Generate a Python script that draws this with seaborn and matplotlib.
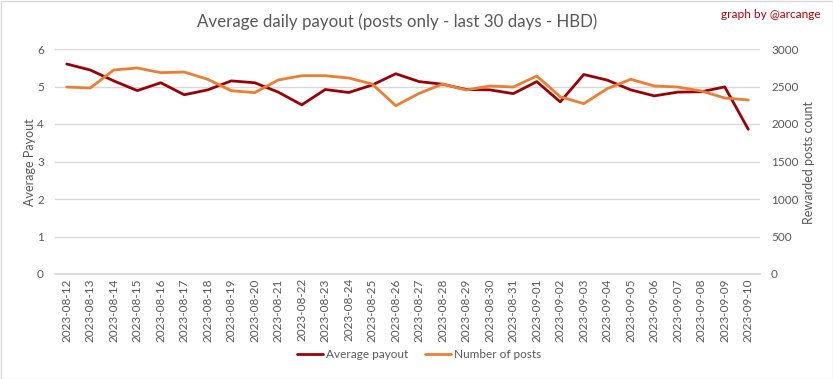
import matplotlib
matplotlib.use("Agg")
import matplotlib.pyplot as plt
import seaborn as sns
import pandas as pd
from matplotlib.patches import Rectangle

dates = ["2023-08-12", "2023-08-13", "2023-08-14", "2023-08-15", "2023-08-16", "2023-08-17",
         "2023-08-18", "2023-08-19", "2023-08-20", "2023-08-21", "2023-08-22", "2023-08-23",
         "2023-08-24", "2023-08-25", "2023-08-26", "2023-08-27", "2023-08-28", "2023-08-29",
         "2023-08-30", "2023-08-31", "2023-09-01", "2023-09-02", "2023-09-03", "2023-09-04",
         "2023-09-05", "2023-09-06", "2023-09-07", "2023-09-08", "2023-09-09", "2023-09-10"]
avg_payout = [5.60, 5.44, 5.15, 4.89, 5.10, 4.78, 4.91, 5.15, 5.10, 4.85, 4.51, 4.92,
              4.84, 5.04, 5.34, 5.13, 5.06, 4.92, 4.91, 4.81, 5.13, 4.59, 5.32, 5.17,
              4.91, 4.75, 4.85, 4.86, 4.99, 3.86]
num_posts = [2493, 2480, 2720, 2747, 2684, 2693, 2596, 2444, 2418, 2587, 2644, 2644,
             2613, 2533, 2244, 2409, 2533, 2453, 2507, 2493, 2640, 2364, 2271, 2471,
             2596, 2507, 2493, 2440, 2347, 2320]

df = pd.DataFrame({"date": dates, "payout": avg_payout, "posts": num_posts})
df["idx"] = range(len(dates))

sns.set_theme(style="white")
plt.rcParams['font.family'] = ['Lato', 'DejaVu Sans']

c_red = "#9C0006"
c_orange = "#ED7D31"
c_text = "#595959"
c_grid = "#D9D9D9"

fig = plt.figure(figsize=(8.33, 3.79), dpi=100)
ax = fig.add_axes([55/833, 1 - 274/379, (760 - 55)/833, (274 - 49)/379])
ax2 = ax.twinx()

sns.lineplot(data=df, x="idx", y="payout", ax=ax, color=c_red, linewidth=2, label="Average payout", legend=False)
sns.lineplot(data=df, x="idx", y="posts", ax=ax2, color=c_orange, linewidth=2, label="Number of posts", legend=False)

ax.set_xlim(-0.5, len(dates) - 0.5)
ax.set_ylim(0, 6)
ax2.set_ylim(0, 3000)
ax.set_yticks(range(0, 7))
ax2.set_yticks(range(0, 3001, 500))
ax.set_xticks(range(len(dates)))
ax.set_xticklabels(dates, rotation=90, fontsize=8.5, color=c_text)
ax.tick_params(axis='y', labelsize=8.5, colors=c_text, length=0, pad=8)
ax2.tick_params(axis='y', labelsize=8.5, colors=c_text, length=0, pad=8)
ax.tick_params(axis='x', length=0, pad=3)
ax.grid(axis='y', color=c_grid, linewidth=1)
ax.set_axisbelow(True)
for a in (ax, ax2):
    for s in a.spines.values():
        s.set_visible(False)
ax.spines['bottom'].set_visible(True)
ax.spines['bottom'].set_color(c_grid)

ax.set_xlabel("")
ax.set_ylabel("Average Payout", fontsize=9, color=c_text)
ax2.set_ylabel("Rewarded posts count", fontsize=9, color=c_text)
ax.yaxis.set_label_coords((36 - 55) / 705, (274 - 162) / 225)
ax2.yaxis.set_label_coords((803 - 55) / 705, (274 - 162) / 225)

fig.text(397/833, 1 - 22/379, "Average daily payout (posts only - last 30 days - HBD)",
         ha="center", va="center", fontsize=12.2, color=c_text)
fig.text(821/833, 1 - 15/379, "graph by @arcange", ha="right", va="center",
         fontsize=8.6, color="#C00000")

h1, l1 = ax.get_legend_handles_labels()
h2, l2 = ax2.get_legend_handles_labels()
fig.legend(h1 + h2, l1 + l2, loc="center", bbox_to_anchor=(419/833, 1 - 355/379),
           ncol=2, frameon=False, fontsize=8.5, labelcolor=c_text, handlelength=2.2,
           handletextpad=0.3, columnspacing=1.4)

fig.patches.append(Rectangle((0.5/833, 0.5/379), 1 - 1/833, 1 - 1/379, transform=fig.transFigure,
                             fill=False, edgecolor="#D9D9D9", linewidth=1))

fig.savefig("out.png", dpi=100)
